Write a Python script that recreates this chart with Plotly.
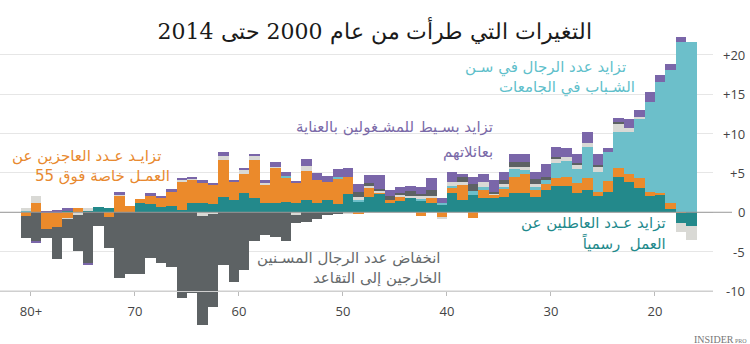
import plotly.graph_objects as go

# Ages (x categories), 80+ on the left down to 16 on the right
ages = [80, 79, 78, 77, 76, 75, 74, 73, 72, 71, 70, 69, 68, 67, 66, 65, 64, 63, 62, 61,
        60, 59, 58, 57, 56, 55, 54, 53, 52, 51, 50, 49, 48, 47, 46, 45, 44, 43, 42, 41,
        40, 39, 38, 37, 36, 35, 34, 33, 32, 31, 30, 29, 28, 27, 26, 25, 24, 23, 22, 21,
        20, 19, 18, 17, 16]

# Officially unemployed (teal)
unemployed = [0.1, 0, 0, -0.1, 0.1, 0, 0.2, 0.7, 0.6, 0, 0, 1.15, 1.05, 0.7, 0.8, 0.3, 1.2, 1.2, 1.1, 2.0,
              1.6, 2.4, 1.8, 1.2, 1.15, 1.25, 1.15, 1.6, 1.15, 1.57, 1.0, 2.33, 1.36, 1.9, 2.4, 1.23, 1.48, 1.8, 1.5, 1.23,
              0.93, 2.4, 1.57, 2.2, 1.78, 1.78, 2.0, 2.42, 2.42, 2.0, 2.84, 3.35, 3.35, 2.5, 2.84, 2.12, 2.54, 4.53, 3.9, 3.05,
              2.12, 2.2, 0.42, -1.3, -1.75]
# Disabled (orange)
disabled = [-0.5, 1.2, -2.1, -1.8, -0.75, 0.6, 0, 0, -0.55, 2.1, 0.8, 0.5, 1.1, 1.15, 1.8, 3.6, 2.9, 2.5, 2.4, 4.6,
            2.3, 2.5, 4.9, 2.3, 4.55, 3.2, 2.6, 3.7, 3.0, 2.3, 3.3, 2.2, -0.2, 1.3, 0.1, 0.34, 0.42, 0, -0.5, 0.55,
            -0.64, 0.64, 1.9, -0.7, 1.06, 0.42, 1.06, 2.12, 2.46, 0.85, 0.76, 0.97, 1.19, 1.27, 1.48, 0.5, 1.48, 1.14, 0.93, 1.27,
            0.47, 0.21, 0.72, 0.08, 0]
# Students (light blue)
students = [0.1, 0, 0, 0, 0, 0, 0, 0, 0, 0, 0, 0, 0, 0, 0, 0, 0, 0, 0, 0,
            0, 0, 0, 0, 0, 0.15, 0, 0, 0, 0, 0.2, 0, 0.3, 0, 0, 0, 0, 0, 0.2, 0,
            0.3, 0.3, 0, 0.5, 0.42, 0, 0.2, 0.93, 0.5, 0.42, 0.5, 2.0, 2.03, 1.7, 3.94, 2.54, 3.69, 4.58, 5.42, 7.5,
            11.4, 14.1, 17.0, 21.6, 21.6]
# Other (light grey)
other = [0.3, 0.85, 0, 0, -0.15, -0.3, 0.35, 0, 0, 0.2, 0, 0, 0, 0, 0, 0.3, 0.1, -0.5, -0.2, 0.5,
         0, 0.5, 0.42, 0.3, 0.1, 0, -0.3, 0.64, 0, 0, 0, -0.1, 0.25, 0.2, 0.3, 0, 0.3, 0.3, 0.34, 0.3,
         -0.2, 0.55, 0.42, 0, 0.64, 0.2, 0.34, 0.34, 0.42, 0.34, 0, 0.42, 0.5, 0.64, 0.6, 0.64, 0, 1.06, 0.5, 0.34,
         0, 0, 0, -1.15, -1.8]
# Retired (dark grey)
retired = [-2.8, -3.7, -1.2, -4.1, -2.4, -4.6, -6.5, -1.8, -4.0, -8.4, -7.9, -7.8, -5.85, -6.5, -6.9, -10.9, -10.3, -13.8, -11.8, -6.7,
           -8.8, -7.3, -3.7, -2.9, -3.1, -3.7, -1.0, -1.2, -0.8, -0.35, -0.15, 0, 0.72, 0.3, 0.2, 0.5, 0.3, 0.55, 0.3, 0.76,
           0, 0, 0.64, 0.85, 0, 0.2, 0.5, 0.64, 0.64, 0.6, 0.42, 0.34, 0, 0.2, 0, 0.2, 0, 0.2, 0, 0,
           0, 0, 0, 0, 0]
# Caring for family (purple)
family = [0, -0.25, 0.15, 0.25, 0.5, 0, -0.25, 0, 0, 0.25, 0, 0, 0.25, 0.25, 0.4, 0.2, 0.3, 0.35, 0.2, 0.6,
          0.2, 0.25, 0.34, 0.25, 0.6, 0.5, 0.2, 0.85, 0.9, 0.72, 1.06, 1.06, 0.97, 1.05, 1.7, 0.76, 0.68, 0.72, 0.93, 1.48,
          0.64, 1.27, 0.34, 0.97, 0.97, 1.48, 1.06, 0.97, 0.97, 0.85, 1.57, 1.19, 1.06, 1.1, 1.31, 1.4, 0.5, 0.42, 1.06, 0.85,
          1.27, 0.93, 0.64, 0.64, 0]

x_tick_vals = [80, 70, 60, 50, 40, 30, 20]
x_tick_text = ["80+", "70", "60", "50", "40", "30", "20"]
y_tick_vals = [20, 15, 10, 5, 0, -5, -10]
y_tick_text = ["+20", "+15", "+10", "+5", "0", "-5", "-10"]

title = "التغيرات التي طرأت من عام 2000 حتى 2014"

series = [
    ("unemployed", unemployed, "#23898b"),
    ("disabled", disabled, "#eb8a2b"),
    ("students", students, "#6cbfca"),
    ("other", other, "#d9d9d5"),
    ("retired", retired, "#5d6264"),
    ("family", family, "#7a66a9"),
]

XR = [82.98, 14.42]
YR = [-14.96, 23.16]

fig = go.Figure()
for name, vals, col in series:
    fig.add_trace(go.Bar(
        x=[a + 0.5 for a in ages], y=vals, width=1, name=name,
        marker=dict(color=col, line=dict(width=0)), showlegend=False,
    ))

def dx(px):
    return 80 - (px - 31) / 10.4

def dy(py):
    return (212.3 - py) / 7.87

labels = [
    ("تزايـد عـدد العاجزين عن", 163, 156, "#e8892f"),
    ("العمـل خاصة فوق 55", 172, 176, "#e8892f"),
    ("تزايد بسـيط للمشـغولين بالعناية", 495, 127, "#7a6aa8"),
    ("بعائلاتهم", 495, 152, "#7a6aa8"),
    ("تزايد عدد الرجال في سـن", 628, 68, "#5fbfcb"),
    ("الشـباب في الجامعات", 637, 88, "#5fbfcb"),
    ("تزايد عـدد العاطلين عن", 668, 223, "#1f8a8c"),
    ("العمل  رسمياً", 668, 243, "#1f8a8c"),
    ("انخفاض عدد الرجال المسـنين", 443, 258, "#666a6c"),
    ("الخارجين إلى التقاعد", 443, 278, "#666a6c"),
]
annotations = []
for txt, rx, cy, col in labels:
    annotations.append(dict(text=txt, x=dx(rx), y=dy(cy), xref="x", yref="y",
                            xanchor="right", yanchor="middle", showarrow=False,
                            font=dict(size=15, color=col, family="DejaVu Sans")))
for v, t in zip(y_tick_vals, y_tick_text):
    annotations.append(dict(text=t, x=1, xshift=34, y=v, xref="paper", yref="y",
                            xanchor="right", yanchor="middle", showarrow=False,
                            font=dict(size=13, color="#444", family="Open Sans")))
annotations.append(dict(text="INSIDER<span style='font-size:6px'> PRO</span>", x=1, xshift=36, y=0, yshift=-2,
                        xref="paper", yref="paper", xanchor="right", yanchor="top",
                        showarrow=False, font=dict(size=10, color="#777", family="Liberation Serif")))

pos = (-10 - YR[0]) / (YR[1] - YR[0])

fig.update_layout(
    width=750, height=344,
    margin=dict(l=0, r=37, t=30, b=14),
    paper_bgcolor="white", plot_bgcolor="white",
    barmode="relative", bargap=0,
    title=dict(text=title, x=0.5, xref="container", xanchor="center",
               y=1 - 31 / 344, yref="container", yanchor="middle",
               font=dict(size=22, color="#1a1a1a", family="DejaVu Serif")),
    xaxis=dict(range=XR, tickvals=x_tick_vals, ticktext=x_tick_text, showgrid=False,
               zeroline=False, anchor="free", position=pos, showline=True,
               linecolor="#cfcfcf", linewidth=1, ticks="outside", ticklen=4,
               tickcolor="#bbb", tickfont=dict(size=13, color="#444", family="Open Sans"),
               ticklabelstandoff=4),
    yaxis=dict(range=YR, tickvals=y_tick_vals, showticklabels=False, showgrid=True,
               gridcolor="#e6e6e6", zeroline=False),
    annotations=annotations,
    shapes=[dict(type="line", xref="paper", yref="y", x0=0, x1=732 / 713, y0=0, y1=0,
                 line=dict(color="#999", width=1), layer="above")],
)

fig.write_html("out.html")
